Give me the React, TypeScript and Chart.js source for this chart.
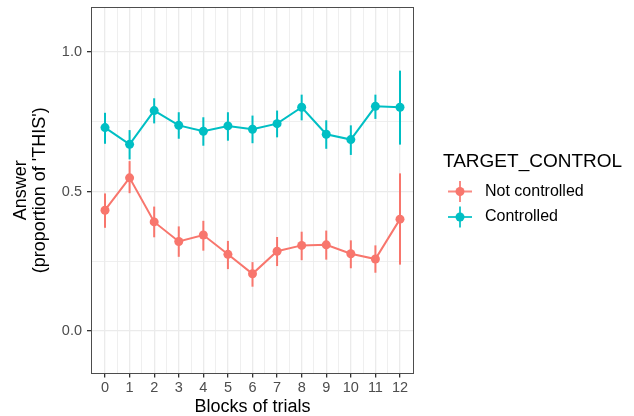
import React, { useEffect, useRef } from 'react';
import { Chart, registerables } from 'chart.js';

Chart.register(...registerables);

const blocks = [0, 1, 2, 3, 4, 5, 6, 7, 8, 9, 10, 11, 12];

const notControlledMean = [0.433, 0.549, 0.391, 0.321, 0.344, 0.275, 0.205, 0.286, 0.307, 0.309, 0.277, 0.258, 0.401];
const notControlledLow = [0.370, 0.494, 0.336, 0.266, 0.288, 0.222, 0.159, 0.233, 0.254, 0.256, 0.225, 0.209, 0.238];
const notControlledHigh = [0.493, 0.609, 0.446, 0.375, 0.395, 0.323, 0.247, 0.337, 0.356, 0.360, 0.325, 0.307, 0.565];

const controlledMean = [0.729, 0.669, 0.790, 0.737, 0.716, 0.735, 0.723, 0.743, 0.802, 0.705, 0.686, 0.805, 0.802];
const controlledLow = [0.671, 0.615, 0.744, 0.689, 0.664, 0.682, 0.673, 0.694, 0.755, 0.653, 0.631, 0.760, 0.668];
const controlledHigh = [0.782, 0.720, 0.834, 0.784, 0.766, 0.784, 0.772, 0.790, 0.847, 0.755, 0.737, 0.847, 0.933];

const seriesNames = ['Not controlled', 'Controlled'];
const seriesColors = ['#F8766D', '#00BFC4'];
const legendTitle = 'TARGET_CONTROL';
const xTitle = 'Blocks of trials';
const yTitle = ['Answer', "(proportion of 'THIS')"];
const yMajorTicks = [0, 0.5, 1.0];
const yMinorTicks = [0.25, 0.75];
const xMinorTicks = [0.5, 1.5, 2.5, 3.5, 4.5, 5.5, 6.5, 7.5, 8.5, 9.5, 10.5, 11.5];

const FONT = '"Liberation Sans", Arial, Helvetica, sans-serif';

const errorBarsPlugin = {
  id: 'errorBars',
  beforeDatasetsDraw(chart: any) {
    const { ctx, scales } = chart;
    const x = scales.x;
    const y = scales.y;
    chart.data.datasets.forEach((ds: any, i: number) => {
      const meta = chart.getDatasetMeta(i);
      if (meta.hidden) return;
      ctx.save();
      ctx.strokeStyle = ds.borderColor;
      ctx.lineWidth = 2;
      ds.data.forEach((pt: any, j: number) => {
        const px = x.getPixelForValue(pt.x);
        ctx.beginPath();
        ctx.moveTo(px, y.getPixelForValue(ds.errLow[j]));
        ctx.lineTo(px, y.getPixelForValue(ds.errHigh[j]));
        ctx.stroke();
      });
      ctx.restore();
    });
  },
};

const panelAndLegendPlugin = {
  id: 'panelAndLegend',
  afterDraw(chart: any) {
    const { ctx, chartArea } = chart;
    ctx.save();
    ctx.strokeStyle = '#4d4d4d';
    ctx.lineWidth = 1;
    ctx.strokeRect(
      Math.round(chartArea.left) + 0.5,
      Math.round(chartArea.top) + 0.5,
      Math.round(chartArea.right - chartArea.left) - 1,
      Math.round(chartArea.bottom - chartArea.top) - 1
    );
    // legend
    const lx = chartArea.right + 29;
    ctx.fillStyle = '#000';
    ctx.textBaseline = 'middle';
    ctx.textAlign = 'left';
    ctx.font = `19px ${FONT}`;
    ctx.fillText(legendTitle, lx, 162);
    chart.data.datasets.forEach((ds: any, i: number) => {
      const cy = 191.5 + i * 25.5;
      const cx = lx + 17;
      ctx.strokeStyle = ds.borderColor;
      ctx.globalAlpha = 0.85;
      ctx.lineWidth = 2;
      ctx.beginPath();
      ctx.moveTo(cx - 12, cy);
      ctx.lineTo(cx + 12, cy);
      ctx.moveTo(cx, cy - 10.5);
      ctx.lineTo(cx, cy + 10.5);
      ctx.stroke();
      ctx.globalAlpha = 1;
      ctx.fillStyle = ds.borderColor;
      ctx.beginPath();
      ctx.arc(cx, cy, 4.5, 0, Math.PI * 2);
      ctx.fill();
      ctx.fillStyle = '#000';
      ctx.font = `16px ${FONT}`;
      ctx.fillText(ds.label, lx + 42, cy);
    });
    ctx.restore();
  },
};

export default function App() {
  const canvasRef = useRef<HTMLCanvasElement | null>(null);

  useEffect(() => {
    if (!canvasRef.current) return;
    const makeData = (vals: number[]) => blocks.map((b, i) => ({ x: b, y: vals[i] }));
    const chart = new Chart(canvasRef.current, {
      type: 'line',
      data: {
        datasets: [
          {
            label: seriesNames[0],
            data: makeData(notControlledMean),
            borderColor: seriesColors[0],
            backgroundColor: seriesColors[0],
            borderWidth: 2,
            pointRadius: 4.5,
            pointBorderWidth: 0,
            tension: 0,
            errLow: notControlledLow,
            errHigh: notControlledHigh,
          } as any,
          {
            label: seriesNames[1],
            data: makeData(controlledMean),
            borderColor: seriesColors[1],
            backgroundColor: seriesColors[1],
            borderWidth: 2,
            pointRadius: 4.5,
            pointBorderWidth: 0,
            tension: 0,
            errLow: controlledLow,
            errHigh: controlledHigh,
          } as any,
        ],
      },
      options: {
        animation: false,
        responsive: false,
        devicePixelRatio: 1,
        layout: { padding: { top: 7, right: 220, left: 0, bottom: 0 } },
        plugins: {
          legend: { display: false },
          tooltip: { enabled: false },
        },
        scales: {
          x: {
            type: 'linear',
            min: -0.57,
            max: 12.57,
            afterBuildTicks: (s: any) => {
              s.ticks = [...blocks, ...xMinorTicks].sort((a, b) => a - b).map((v) => ({ value: v }));
            },
            afterFit: (s: any) => {
              s.height = 42.5;
              s.paddingLeft = 0;
              s.paddingRight = 0;
            },
            border: { display: false },
            grid: {
              color: '#EBEBEB',
              lineWidth: (c: any) => (Number.isInteger(c.tick?.value) ? 1.3 : 0.8),
              tickColor: (c: any) => (Number.isInteger(c.tick?.value) ? '#333333' : 'rgba(0,0,0,0)'),
              tickLength: 4,
              drawTicks: true,
            },
            ticks: {
              autoSkip: false,
              maxRotation: 0,
              padding: 2,
              color: '#4D4D4D',
              font: { family: FONT, size: 14.5 },
              callback: (v: any) => (Number.isInteger(v) ? String(v) : ''),
            },
            title: {
              display: true,
              text: xTitle,
              color: '#000',
              font: { family: FONT, size: 18, lineHeight: 1 },
              padding: { top: 0, bottom: 0 },
            },
          },
          y: {
            type: 'linear',
            min: -0.152,
            max: 1.161,
            afterBuildTicks: (s: any) => {
              s.ticks = [...yMajorTicks, ...yMinorTicks].sort((a, b) => a - b).map((v) => ({ value: v }));
            },
            afterFit: (s: any) => {
              s.width = 91;
              s.paddingTop = 0;
              s.paddingBottom = 0;
            },
            border: { display: false },
            grid: {
              color: '#EBEBEB',
              lineWidth: (c: any) => (yMajorTicks.includes(c.tick?.value) ? 1.3 : 0.8),
              tickColor: (c: any) => (yMajorTicks.includes(c.tick?.value) ? '#333333' : 'rgba(0,0,0,0)'),
              tickLength: 4,
              drawTicks: true,
            },
            ticks: {
              autoSkip: false,
              padding: 5,
              color: '#4D4D4D',
              font: { family: FONT, size: 14.5 },
              callback: (v: any) => (yMajorTicks.includes(v) ? Number(v).toFixed(1) : ''),
            },
            title: {
              display: true,
              text: yTitle,
              color: '#000',
              font: { family: FONT, size: 18, lineHeight: 1.05 },
              padding: { top: 11.5, bottom: 0 },
            },
          },
        },
      },
      plugins: [errorBarsPlugin, panelAndLegendPlugin],
    });
    return () => chart.destroy();
  }, []);

  return (
    <div style={{ position: 'absolute', left: 0, top: 0, width: 634, height: 416, background: '#fff' }}>
      <canvas ref={canvasRef} width={634} height={416} style={{ display: 'block' }} />
    </div>
  );
}
